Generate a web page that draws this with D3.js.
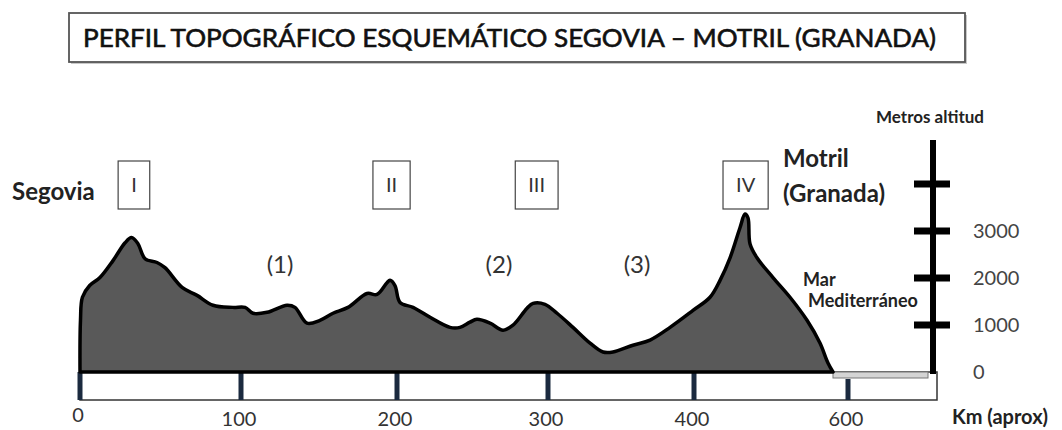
<!DOCTYPE html>
<html lang="es">
<head>
  <meta charset="utf-8" />
  <title>Perfil topográfico Segovia – Motril</title>
  <script src="https://d3js.org/d3.v7.min.js"></script>
  <style>
    body {
      margin: 0;
      padding: 0;
      background: #ffffff;
      font-family: Lato, "Open Sans", Arial, sans-serif;
    }
    #chart { width: 1062px; height: 430px; }
    .lbl { fill: #333; }
    .bold { font-weight: bold; fill: #222; }
  </style>
</head>
<body>
<div id="chart"></div>

<script>
/* ========== 1) DATA ========== */
const title = "PERFIL TOPOGRÁFICO ESQUEMÁTICO SEGOVIA – MOTRIL (GRANADA)";

// distance along the route (km) and altitude (m) of the schematic profile
const profileKm  = [0, 0.3, 1.5, 6, 12.4, 20.5, 28, 32, 36, 40.4, 47.8, 52.8, 63.4, 72.7, 82.6, 95,
                    102.6, 107.7, 116.7, 129.5, 134.6, 142.3, 150.6, 159, 168.6, 180.8, 187.2, 193.6,
                    195.5, 198.7, 202, 210.6, 221.9, 235.1, 241.7, 248.3, 252.9, 261.6, 270.2, 276.8,
                    286.1, 290.1, 298, 306.2, 317.1, 328.8, 337.7, 344.5, 358.2, 369.9, 383.6, 399.3,
                    420.8, 433.8, 446.8, 459.7, 466.2, 470.1, 472.7, 481.8, 502.6, 524.7, 546.8,
                    563.6, 574, 580.5];
const profileAlt = [0, 1100, 1590, 1840, 2010, 2370, 2750, 2860, 2730, 2410, 2330, 2220, 1800, 1630, 1420, 1375,
                    1375, 1250, 1270, 1420, 1375, 1040, 1100, 1250, 1375, 1670, 1650, 1900,
                    1950, 1840, 1480, 1375, 1165, 950, 950, 1060, 1120, 1040, 890, 995,
                    1355, 1460, 1440, 1250, 950, 615, 425, 425, 570, 680, 950, 1310,
                    1590, 1950, 2430, 3070, 3360, 3280, 2730, 2430, 2010, 1590, 1100,
                    615, 190, 0];

// axes
const kmTicks   = [0, 100, 200, 300, 400, 600];
const altTicks  = [0, 1000, 2000, 3000, 4000];
const altLabels = ["0", "1000", "2000", "3000", ""];

// sierras (roman numerals) and depressions (numbers) along the route
const sierraLabels = ["I", "II", "III", "IV"];
const sierraKm     = [33.5, 196.5, 292.5, 467];
const basinLabels  = ["(1)", "(2)", "(3)"];
const basinKm      = [125, 267.5, 361];

/* ========== 2) SETUP ========== */
const W = 1062, H = 430;
const axisX = 933;          // vertical altitude axis
const barH = 28;            // height of the km bar

const svg = d3.select("#chart").append("svg")
  .attr("width", W)
  .attr("height", H);

// the km bar of the original drawing is hand-made, so the scale is piecewise
const x = d3.scaleLinear()
  .domain(kmTicks)
  .range([80, 241, 397, 548, 694, 848]);

const y = d3.scaleLinear()
  .domain([0, 4000])
  .range([372, 184]);

/* ========== 3) TITLE ========== */
svg.append("rect")
  .attr("x", 71).attr("y", 15)
  .attr("width", 896).attr("height", 49)
  .attr("fill", "#c8c8c8");
svg.append("rect")
  .attr("x", 69).attr("y", 13)
  .attr("width", 896).attr("height", 49)
  .attr("fill", "#fff")
  .attr("stroke", "#555")
  .attr("stroke-width", 1.8);
svg.append("text")
  .attr("x", 83).attr("y", 47)
  .attr("font-size", 25)
  .attr("fill", "#111")
  .attr("stroke", "#111")
  .attr("stroke-width", 0.6)
  .attr("textLength", 853)
  .attr("lengthAdjust", "spacingAndGlyphs")
  .text(title);

/* ========== 4) KM BAR ========== */
const y0 = y(0);

svg.append("rect")
  .attr("x", x(0)).attr("y", y0)
  .attr("width", axisX + 4 - x(0))
  .attr("height", barH)
  .attr("fill", "#fff")
  .attr("stroke", "#333")
  .attr("stroke-width", 1.5);

// sea strip after the coast
const coastKm = profileKm[profileKm.length - 1];
svg.append("rect")
  .attr("x", x(coastKm)).attr("y", y0)
  .attr("width", axisX - 5 - x(coastKm))
  .attr("height", 6)
  .attr("fill", "#d4d4d4")
  .attr("stroke", "#777")
  .attr("stroke-width", 1);

svg.selectAll(".kmtick")
  .data(kmTicks)
  .enter().append("line")
    .attr("class", "kmtick")
    .attr("x1", d => x(d)).attr("x2", d => x(d))
    .attr("y1", d => d === 600 ? y0 + 7 : y0)
    .attr("y2", y0 + barH)
    .attr("stroke", "#1b2a3f")
    .attr("stroke-width", 5);

svg.selectAll(".kmlabel")
  .data(kmTicks)
  .enter().append("text")
    .attr("class", "kmlabel lbl")
    .attr("x", d => x(d) - 2)
    .attr("y", d => d === 0 ? 422 : 426)
    .attr("text-anchor", "middle")
    .attr("font-size", 20)
    .attr("fill", "#444")
    .text(d => d);

svg.append("text")
  .attr("class", "bold")
  .attr("x", 952).attr("y", 424)
  .attr("font-size", 20)
  .text("Km (aprox)");

/* ========== 5) PROFILE ========== */
const profile = profileKm.map((k, i) => ({ km: k, alt: profileAlt[i] }));

const area = d3.area()
  .x(d => x(d.km))
  .y0(y0)
  .y1(d => y(d.alt))
  .curve(d3.curveCatmullRom.alpha(0.5));

svg.append("path")
  .datum(profile)
  .attr("d", area)
  .attr("fill", "#595959")
  .attr("stroke", "#000")
  .attr("stroke-width", 3.5)
  .attr("stroke-linejoin", "round");

/* ========== 6) ALTITUDE AXIS ========== */
svg.append("line")
  .attr("x1", axisX).attr("x2", axisX)
  .attr("y1", y0 + 2).attr("y2", 140)
  .attr("stroke", "#000")
  .attr("stroke-width", 6);

svg.selectAll(".alttick")
  .data(altTicks)
  .enter().filter(d => d > 0).append("line")
    .attr("class", "alttick")
    .attr("x1", axisX - 19).attr("x2", axisX + 17)
    .attr("y1", d => y(d)).attr("y2", d => y(d))
    .attr("stroke", "#000")
    .attr("stroke-width", 7);

svg.selectAll(".altlabel")
  .data(altTicks)
  .enter().append("text")
    .attr("class", "altlabel")
    .attr("x", 973)
    .attr("y", d => y(d) + 7)
    .attr("font-size", 20)
    .attr("fill", "#444")
    .text((d, i) => altLabels[i]);

svg.append("text")
  .attr("class", "bold")
  .attr("x", 930).attr("y", 123)
  .attr("text-anchor", "middle")
  .attr("font-size", 17)
  .text("Metros altitud");

/* ========== 7) PLACE NAMES & LABELS ========== */
svg.append("text").attr("class", "bold")
  .attr("x", 12).attr("y", 200)
  .attr("font-size", 24)
  .text("Segovia");

svg.append("text").attr("class", "bold")
  .attr("x", 783).attr("y", 167)
  .attr("font-size", 24)
  .text("Motril");
svg.append("text").attr("class", "bold")
  .attr("x", 783).attr("y", 202)
  .attr("font-size", 24)
  .text("(Granada)");

svg.append("text").attr("class", "bold")
  .attr("x", 803).attr("y", 286)
  .attr("font-size", 18).attr("fill", "#333")
  .text("Mar");
svg.append("text").attr("class", "bold")
  .attr("x", 808).attr("y", 307)
  .attr("font-size", 18).attr("fill", "#333")
  .text("Mediterráneo");

// roman numeral boxes
const sierras = svg.selectAll(".sierra")
  .data(sierraLabels)
  .enter().append("g")
    .attr("class", "sierra")
    .attr("transform", (d, i) => `translate(${x(sierraKm[i])},185)`);

sierras.append("text")
  .attr("text-anchor", "middle")
  .attr("y", 7)
  .attr("font-size", 20)
  .attr("fill", "#333")
  .text(d => d);

sierras.insert("rect", "text")
  .each(function() {
    const w = this.parentNode.querySelector("text").getComputedTextLength() + 26;
    d3.select(this)
      .attr("x", -w / 2).attr("y", -24)
      .attr("width", w).attr("height", 48);
  })
  .attr("fill", "#fff")
  .attr("stroke", "#444")
  .attr("stroke-width", 1.2);

svg.selectAll(".basin")
  .data(basinLabels)
  .enter().append("text")
    .attr("class", "basin")
    .attr("x", (d, i) => x(basinKm[i]))
    .attr("y", 273)
    .attr("text-anchor", "middle")
    .attr("font-size", 24)
    .attr("fill", "#333")
    .text(d => d);
</script>
</body>
</html>
